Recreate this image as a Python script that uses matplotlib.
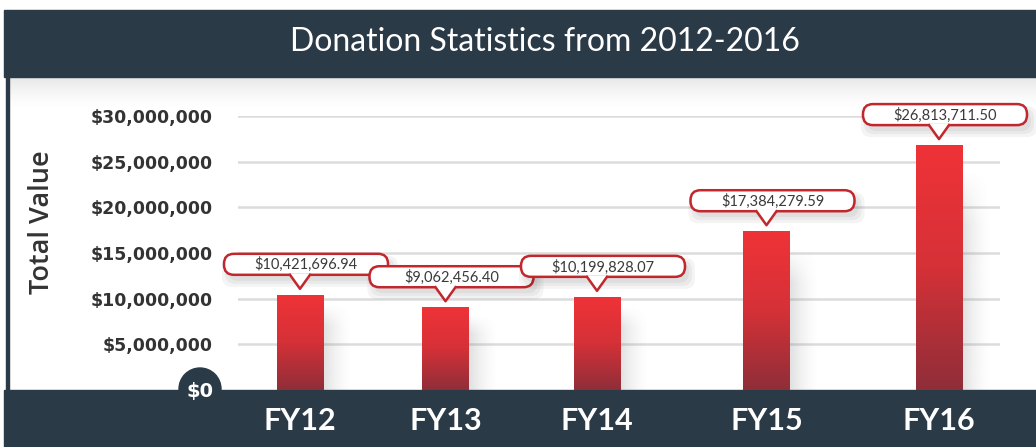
import numpy as np
import matplotlib.pyplot as plt
from matplotlib.patches import FancyBboxPatch, Polygon, Rectangle, Circle
from matplotlib.colors import LinearSegmentedColormap

years = ['FY12', 'FY13', 'FY14', 'FY15', 'FY16']
donations = [10421696.94, 9062456.40, 10199828.07, 17384279.59, 26813711.50]
ytick_values = [5e6, 10e6, 15e6, 20e6, 25e6, 30e6]

# bar centres, the gaps in the original are not even
slots = [0, 0.97, 1.98, 3.11, 4.26]

W, H = 1036, 447
navy = '#2b3a47'
red_edge = '#c1272d'
plt.rcParams['font.family'] = ['Lato', 'DejaVu Sans']

fig = plt.figure(figsize=(W / 100, H / 100), dpi=100)
fig.patch.set_facecolor('white')

# background layer in pixel coords (y down)
bg = fig.add_axes([0, 0, 1, 1], zorder=0)
bg.set_xlim(0, W)
bg.set_ylim(H, 0)
bg.axis('off')
bg.add_patch(Rectangle((4, 10), W - 4, 67, color=navy))
bg.add_patch(Rectangle((4, 390), W - 4, H - 390, color=navy))
bg.add_patch(Rectangle((6, 77), 3, 313, color=navy))
shade = np.zeros((40, 1, 4))
shade[..., :3] = 0.55
shade[:, 0, 3] = np.linspace(0.35, 0, 40) ** 1.5
bg.imshow(shade, extent=(9, W, 110, 77), aspect='auto', origin='upper')

# main chart
ax = fig.add_axes([238 / W, (H - 390) / H, 762 / W, (390 - 116) / H], zorder=1)
ax.patch.set_alpha(0)

cmap = LinearSegmentedColormap.from_list('bar', [(0, '#8f2e39'), (0.5, '#d53137'), (1, '#ef3338')])
grad = np.linspace(0, 1, 256)[:, None]

# soft shadow to the right of each bar
xs = np.linspace(0, 1, 30)[None, :]
ys = np.linspace(0, 1, 60)[:, None]
sh = np.zeros((60, 30, 4))
sh[..., :3] = 0.4
sh[..., 3] = 0.2 * (1 - xs) ** 1.6 * np.clip((1 - ys) / 0.25, 0, 1)

bw = 0.31
bars = ax.bar(slots, donations, width=bw, color='none', zorder=3)
for rect, x, v in zip(bars, slots, donations):
    im = ax.imshow(grad, cmap=cmap, extent=(x - bw / 2, x + bw / 2, 0, v),
                   aspect='auto', origin='lower', zorder=3)
    im.set_clip_path(rect)
    ax.imshow(sh, extent=(x + bw / 2, x + bw / 2 + 0.2, 0, v * 0.9),
              aspect='auto', origin='lower', zorder=2)

ax.set_xlim(-62 / 150, 700 / 150)
ax.set_ylim(0, 30e6)
ax.yaxis.grid(True, color='#dcdcdc', lw=1.8)
ax.set_axisbelow(True)
for s in ax.spines.values():
    s.set_visible(False)
ax.tick_params(length=0)
ax.set_yticks(ytick_values, [f'${v:,.0f}' for v in ytick_values],
              fontsize=12.5, fontweight='bold', color='#333333', family='DejaVu Sans')
ax.tick_params(axis='y', pad=18)
ax.set_xticks(slots, years, fontsize=22, fontweight='bold', color='white')
ax.tick_params(axis='x', pad=12)

fig.text(545 / W, 1 - 42 / H, 'Donation Statistics from 2012-2016', color='white',
         fontsize=23, ha='center', va='center')
fig.text(42 / W, 1 - 222 / H, 'Total Value', rotation=90, fontsize=19.5,
         color='#333333', ha='center', va='center', family='Open Sans', fontweight='semibold')

# foreground: callouts and the $0 badge
fg = fig.add_axes([0, 0, 1, 1], zorder=2)
fg.set_xlim(0, W)
fg.set_ylim(H, 0)
fg.axis('off')
fg.patch.set_alpha(0)

to_fg = ax.transData + fg.transData.inverted()
for x, v in zip(slots, donations):
    cx, top = to_fg.transform((x, v))
    bot = top - 20
    tip = top - 6
    bx = cx + 6
    for k in range(3):
        fg.add_patch(FancyBboxPatch((bx - 82 + 4 - k * 3, bot - 21 + 6 - k * 2), 164 + k * 6, 21 + k * 5,
                                    boxstyle='round,pad=0,rounding_size=10',
                                    fc='black', ec='none', alpha=0.045))
    fg.add_patch(FancyBboxPatch((bx - 82, bot - 21), 164, 21,
                                boxstyle='round,pad=0,rounding_size=10',
                                fc='white', ec=red_edge, lw=1.8))
    fg.add_patch(Polygon([(cx - 10, bot - 1.5), (cx, tip), (cx + 10, bot - 1.5)],
                         closed=True, fc='white', ec='none', zorder=3))
    fg.plot([cx - 10, cx, cx + 10], [bot, tip, bot], color=red_edge, lw=1.8, zorder=4)
    fg.text(bx, bot - 10, f'${v:,.2f}', ha='center', va='center',
            fontsize=10.5, color='#3a3a3a', zorder=5)

fg.add_patch(Circle((200, 389), 21, color=navy))
fg.text(200, 391, '$0', color='white', fontsize=14, fontweight='bold',
        ha='center', va='center', family='DejaVu Sans')

fig.savefig('out.png', dpi=100)
